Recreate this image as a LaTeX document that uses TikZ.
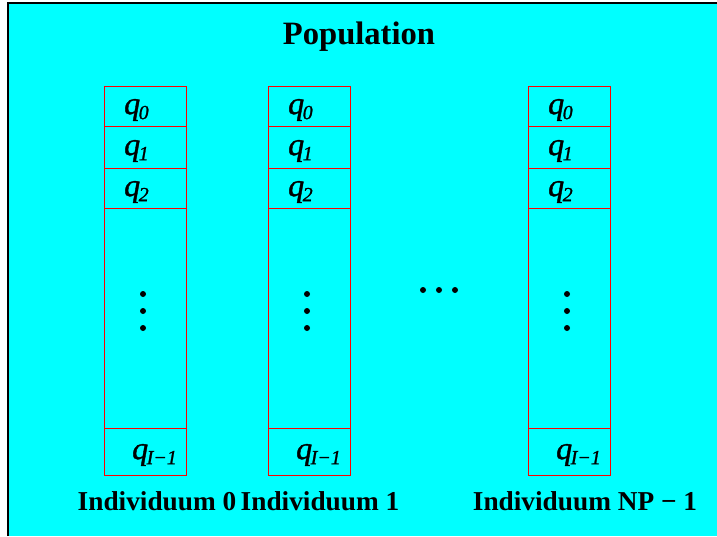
\documentclass[tikz,border=0pt]{standalone}
\usepackage{fontspec}
\setmainfont{Liberation Serif}
\newfontfamily\qfont[ItalicFeatures={FakeBold=1.2}]{Liberation Serif}
\definecolor{bgcyan}{RGB}{0,255,255}
\newcommand{\qsub}[1]{q\kern-1.5pt\raisebox{-5pt}{\fontsize{20}{21}\selectfont #1}}
\begin{document}
\begin{tikzpicture}[x=1pt,y=-1pt,
  cell/.style={draw=red,line width=1.1pt,minimum width=82pt,inner sep=0pt,anchor=north west},
  qlab/.style={font=\fontsize{32}{33}\selectfont\qfont\itshape,anchor=west,inner sep=0pt},
  caption/.style={font=\fontsize{27.3}{30}\selectfont\bfseries,inner sep=0pt},
  dot/.style={circle,fill=black,inner sep=0pt,minimum size=6pt}]
\useasboundingbox (0,0) rectangle (717,536);
\fill[bgcyan] (8,3) rectangle (717,536);
\draw[black,line width=1.8pt] (8,536) -- (8,3) -- (717,3);
\node[font=\fontsize{32.6}{36}\selectfont\bfseries] (title) at (359,37) {Population};
\foreach \c/\x in {a/104,b/268,c/528}{
  \node[cell,minimum height=40pt] (\c0) at (\x,86) {};
  \node[cell,minimum height=42pt] (\c1) at (\x,126) {};
  \node[cell,minimum height=40pt] (\c2) at (\x,168) {};
  \node[cell,minimum height=220pt] (\c3) at (\x,208) {};
  \node[cell,minimum height=47pt] (\c4) at (\x,428) {};
  \node[qlab] (\c q0) at (\x+20,110) {\qsub{0}};
  \node[qlab] (\c q1) at (\x+20,151) {\qsub{1}};
  \node[qlab] (\c q2) at (\x+20,192) {\qsub{2}};
  \node[qlab] (\c q4) at (\x+28,455) {\qsub{I−1}};
  \node[dot] (\c d1) at (\x+39,294) {};
  \node[dot] (\c d2) at (\x+39,311) {};
  \node[dot] (\c d3) at (\x+39,328) {};
}
\node[dot] (h1) at (423,290) {};
\node[dot] (h2) at (439,290) {};
\node[dot] (h3) at (455,290) {};
\node[caption] (n0) at (157,501) {Individuum 0};
\node[caption] (n1) at (320,501) {Individuum 1};
\node[caption] (n2) at (585,501) {Individuum NP − 1};
\end{tikzpicture}
\end{document}
